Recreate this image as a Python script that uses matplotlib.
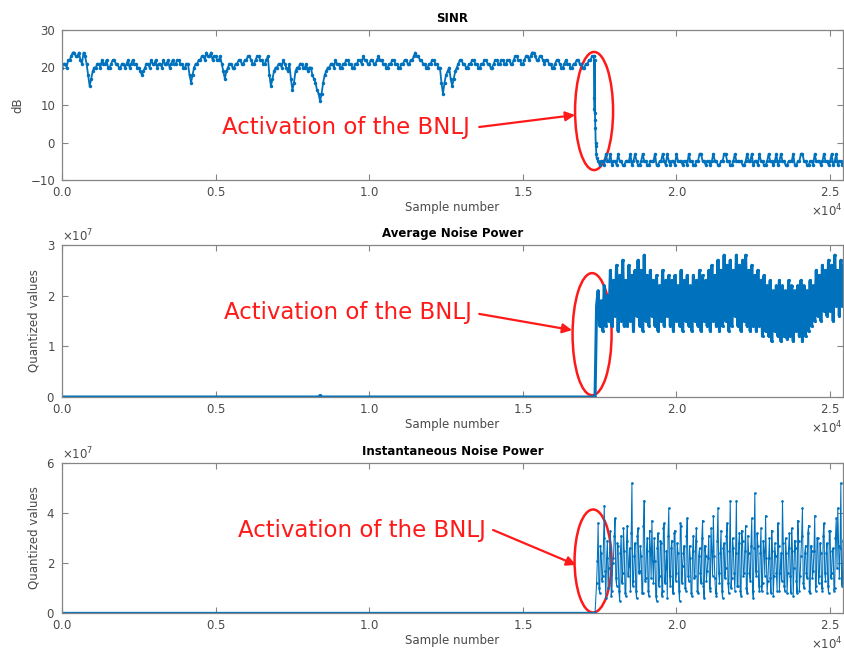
import numpy as np
import matplotlib
matplotlib.use("Agg")
import matplotlib.pyplot as plt
from matplotlib.patches import Ellipse
from matplotlib.ticker import ScalarFormatter

# ---------------- data ----------------
# SINR (dB) before the jammer switches on: samples 0, 100, 200, ...
sinr_pre = [
    20, 21, 22, 23, 24, 23, 22, 24, 21, 15,
    19, 20, 21, 22, 21, 20, 21, 22, 21, 20,
    21, 21, 20, 22, 21, 20, 18, 20, 21, 22,
    21, 20, 21, 22, 21, 20, 22, 21, 22, 21,
    20, 21, 16, 20, 21, 22, 23, 24, 23, 22,
    23, 22, 21, 17, 20, 21, 20, 21, 22, 21,
    22, 23, 21, 22, 23, 22, 21, 23, 15, 19,
    20, 21, 22, 20, 21, 14, 19, 20, 21, 20,
    19, 20, 17, 14, 11, 16, 19, 20, 21, 22,
    21, 20, 21, 22, 21, 20, 21, 22, 23, 22,
    21, 22, 21, 23, 22, 21, 20, 21, 22, 21,
    20, 21, 22, 21, 22, 24, 23, 22, 21, 20,
    21, 22, 21, 20, 13, 18, 20, 15, 19, 21,
    22, 21, 20, 21, 22, 21, 20, 21, 22, 21,
    20, 22, 21, 22, 21, 22, 21, 22, 23, 22,
    21, 23, 22, 24, 23, 22, 23, 21, 22, 21,
    20, 22, 21, 20, 22, 21, 20, 21, 22, 21,
    20, 21, 22, 23,
]
# samples 50, 150, 250, ...
sinr_pre_mid = [
    21, 20, 22, 24, 23, 24, 21, 23, 18, 17,
    20, 21, 20, 21, 22, 20, 22, 21, 20, 21,
    20, 22, 21, 21, 20, 19, 19, 21, 20, 21,
    22, 21, 20, 21, 22, 21, 21, 22, 21, 20,
    21, 18, 18, 21, 22, 23, 22, 23, 24, 23,
    22, 23, 19, 19, 21, 20, 21, 22, 21, 22,
    23, 22, 21, 23, 22, 21, 22, 18, 17, 20,
    21, 20, 21, 19, 17, 16, 20, 21, 20, 21,
    20, 18, 16, 13, 13, 18, 20, 21, 20, 21,
    20, 21, 22, 21, 20, 21, 22, 21, 22, 21,
    22, 21, 22, 22, 21, 20, 21, 22, 21, 20,
    21, 22, 21, 22, 23, 23, 22, 21, 20, 21,
    22, 21, 20, 16, 16, 19, 17, 17, 20, 22,
    21, 20, 21, 22, 21, 20, 21, 22, 21, 20,
    21, 22, 21, 22, 21, 22, 21, 23, 22, 21,
    22, 23, 23, 24, 22, 23, 22, 22, 21, 20,
    21, 22, 20, 21, 21, 20, 21, 22, 21, 20,
    21, 22, 23, 22,
]
# samples 17310 ... 17390 (every 10) while the SINR collapses
sinr_drop = [23, 12, 9, 8, 6, 4, 0, -1, -3]
# after activation: samples 17400, 17500, ...
sinr_post = [
    -4, -6, -5, -3, -5, -6, -5, -3, -5, -6,
    -5, -3, -5, -5, -6, -3, -5, -6, -5, -3,
    -6, -5, -5, -3, -6, -5, -3, -5, -6, -5,
    -3, -5, -6, -5, -3, -5, -5, -6, -3, -5,
    -6, -5, -3, -5, -6, -3, -5, -5, -6, -3,
    -5, -6, -5, -3, -5, -6, -3, -5, -5, -6,
    -3, -5, -6, -5, -3, -6, -5, -3, -5, -6,
    -5, -3, -5, -6, -3, -5, -5, -6, -3, -5,
    -6, -5,
]
# samples 17450, 17550, ...
sinr_post_mid = [
    -5, -5, -6, -5, -3, -5, -6, -5, -6, -5,
    -5, -6, -3, -6, -5, -5, -6, -5, -5, -6,
    -5, -3, -6, -5, -5, -6, -5, -5, -5, -6,
    -5, -6, -5, -3, -5, -6, -5, -5, -5, -6,
    -5, -3, -5, -6, -5, -5, -5, -6, -5, -5,
    -3, -5, -6, -5, -6, -5, -5, -6, -3, -5,
    -5, -6, -5, -5, -6, -5, -3, -5, -6, -5,
    -6, -5, -5, -5, -5, -6, -3, -5, -6, -5,
    -5, -6,
]

# Average noise power (x 1e7): quiet part, then every 50 samples from 17400
avg_quiet_idx = [0, 8350, 8400, 8450, 17350]
avg_quiet = [0.0, 0.0, 0.03, 0.0, 0.0]
avg_post = [
    1.8, 2.1, 1.4, 1.9, 1.3, 2.2, 1.4, 2.0,
    1.5, 2.5, 1.4, 2.3, 1.6, 2.6, 1.3, 2.4,
    1.5, 2.7, 1.4, 2.3, 1.4, 2.6, 1.5, 2.4,
    1.3, 2.5, 1.6, 2.7, 1.4, 2.5, 1.3, 2.8,
    1.5, 2.4, 1.4, 2.5, 1.6, 2.3, 1.4, 2.4,
    1.3, 2.2, 1.5, 2.5, 1.4, 2.3, 1.6, 2.4,
    1.4, 2.3, 1.3, 2.4, 1.5, 2.2, 1.4, 2.5,
    1.3, 2.3, 1.5, 2.4, 1.4, 2.2, 1.3, 2.4,
    1.5, 2.3, 1.4, 2.5, 1.3, 2.4, 1.5, 2.3,
    1.4, 2.5, 1.3, 2.6, 1.5, 2.4, 1.4, 2.7,
    1.3, 2.5, 1.4, 2.8, 1.5, 2.6, 1.3, 2.7,
    1.4, 2.5, 1.6, 2.8, 1.4, 2.6, 1.3, 2.7,
    1.5, 2.8, 1.4, 2.5, 1.3, 2.6, 1.4, 2.4,
    1.3, 2.5, 1.4, 2.3, 1.2, 2.4, 1.3, 2.2,
    1.2, 2.3, 1.1, 2.1, 1.3, 2.2, 1.2, 2.3,
    1.1, 2.2, 1.2, 2.1, 1.15, 2.3, 1.2, 2.2,
    1.1, 2.1, 1.3, 2.2, 1.2, 2.3, 1.1, 2.2,
    1.2, 2.1, 1.3, 2.3, 1.4, 2.2, 1.5, 2.5,
    1.6, 2.4, 1.5, 2.6, 1.7, 2.5, 1.6, 2.7,
    1.7, 2.6, 1.5, 2.8, 1.8, 2.5, 1.6, 2.7,
    1.8, 2.6, 1.7, 2.5,
]

# Instantaneous noise power (x 1e7): samples 17400, 17450, ...
inst_quiet_idx = [0, 17350]
inst_quiet = [0.0, 0.0]
inst_post = [
    1.2, 3.6, 0.8, 2.4, 1.5, 4.3, 0.6, 2.9,
    1.8, 3.3, 0.9, 2.2, 3.8, 1.1, 2.7, 0.5,
    3.1, 1.6, 2.5, 0.7, 3.5, 1.9, 0.9, 5.2,
    1.3, 2.8, 0.6, 3.4, 1.7, 2.3, 0.8, 4.5,
    1.4, 3.0, 0.7, 2.6, 3.7, 1.2, 2.1, 0.5,
    3.2, 1.5, 2.8, 0.9, 3.6, 1.8, 0.6, 4.2,
    1.1, 2.9, 0.8, 3.3, 1.6, 2.4, 0.5, 3.5,
    1.9, 2.7, 0.9, 3.8, 1.3, 2.2, 0.7, 3.1,
    1.5, 3.4, 0.8, 2.6, 1.2, 3.7, 0.6, 2.3,
    1.7, 3.1, 0.9, 2.5, 3.9, 1.4, 0.7, 4.2,
    1.2, 3.3, 0.6, 2.8, 1.8, 3.6, 0.8, 4.5,
    1.4, 2.6, 0.9, 4.5, 1.1, 3.2, 0.7, 2.9,
    1.6, 3.5, 0.8, 2.4, 1.3, 3.8, 0.6, 4.8,
    1.5, 2.7, 0.9, 3.4, 1.2, 2.5, 3.9, 0.8,
    2.2, 1.4, 3.3, 0.7, 2.8, 1.6, 3.6, 0.9,
    2.4, 4.5, 1.1, 3.0, 0.8, 2.6, 1.5, 3.4,
    0.7, 2.9, 1.3, 3.7, 0.9, 2.3, 4.2, 1.0,
    2.7, 1.4, 3.5, 0.8, 2.5, 1.7, 3.9, 1.1,
    3.0, 1.5, 2.4, 0.9, 3.6, 1.3, 2.8, 0.8,
    3.3, 1.6, 2.6, 1.0, 3.8, 4.2, 1.4, 5.2,
    1.2, 3.1, 0.9, 2.7,
]
# samples 17425, 17475, ...
inst_post_mid = [
    2.1, 1.0, 2.7, 1.3, 3.0, 1.7, 2.2, 1.0,
    2.6, 0.7, 2.0, 3.1, 1.4, 2.8, 0.9, 2.4,
    1.2, 3.4, 0.8, 2.9, 1.5, 2.6, 3.2, 1.1,
    2.3, 0.9, 3.1, 1.6, 2.7, 0.8, 3.5, 1.3,
    2.5, 0.9, 3.3, 1.4, 2.1, 3.0, 0.7, 2.6,
    1.1, 2.9, 0.7, 3.4, 1.2, 2.5, 3.1, 1.5,
    2.6, 0.8, 3.2, 1.3, 2.8, 0.9, 3.6, 1.2,
    2.4, 1.0, 3.1, 1.5, 2.7, 0.8, 2.5, 1.4,
    2.9, 0.9, 2.3, 1.6, 3.0, 1.1, 2.7, 1.3,
    2.2, 1.0, 3.4, 1.5, 2.3, 0.8, 2.9, 1.6,
    2.4, 0.9, 2.6, 1.4, 3.1, 1.2, 2.5, 1.0,
    3.0, 1.6, 2.4, 1.1, 2.8, 0.9, 3.3, 1.5,
    2.5, 1.0, 3.1, 1.6, 2.7, 0.9, 2.6, 1.7,
    3.2, 1.1, 2.4, 0.9, 2.9, 1.5, 2.2, 1.3,
    3.0, 0.8, 2.5, 1.5, 2.3, 0.9, 2.7, 1.6,
    1.3, 2.8, 0.9, 2.4, 1.6, 3.2, 0.8, 2.5,
    1.8, 2.6, 0.8, 2.9, 1.5, 3.1, 1.2, 2.4,
    1.6, 3.2, 0.9, 2.7, 1.4, 2.5, 0.9, 3.0,
    1.2, 2.8, 1.0, 3.1, 1.6, 2.4, 1.1, 3.3,
    1.4, 2.5, 0.9, 3.0, 1.8, 2.7, 2.6, 1.1,
    2.9, 1.5, 3.2, 1.6,
]


def merge(pairs):
    """Join (sample_index, value) chunks and order them by sample index."""
    xs = np.concatenate([np.asarray(p[0], dtype=float) for p in pairs])
    ys = np.concatenate([np.asarray(p[1], dtype=float) for p in pairs])
    order = np.argsort(xs, kind="stable")
    return xs[order], ys[order]


x_sinr, y_sinr = merge([
    (np.arange(len(sinr_pre)) * 100, sinr_pre),
    (50 + np.arange(len(sinr_pre_mid)) * 100, sinr_pre_mid),
    (17310 + np.arange(len(sinr_drop)) * 10, sinr_drop),
    (17400 + np.arange(len(sinr_post)) * 100, sinr_post),
    (17450 + np.arange(len(sinr_post_mid)) * 100, sinr_post_mid),
])
# keep the SINR trace out of the gap before the drop
keep = ~((x_sinr > 17300) & (x_sinr < 17310))
x_sinr, y_sinr = x_sinr[keep], y_sinr[keep]

x_avg, y_avg = merge([
    (avg_quiet_idx, avg_quiet),
    (17400 + np.arange(len(avg_post)) * 50, avg_post),
])
y_avg = y_avg * 1e7

x_inst, y_inst = merge([
    (17400 + np.arange(len(inst_post)) * 50, inst_post),
    (17425 + np.arange(len(inst_post_mid)) * 50, inst_post_mid),
])
x_inst = np.concatenate([[17350], x_inst])
y_inst = np.concatenate([[0.0], y_inst]) * 1e7

# ---------------- styling ----------------
BLUE = "#0072BD"
AX_GREY = "#858585"
TXT_GREY = "#4a4a4a"
plt.rcParams.update({
    "font.family": "DejaVu Sans",
    "font.size": 8.5,
    "axes.edgecolor": AX_GREY,
    "axes.linewidth": 0.9,
    "xtick.color": AX_GREY,
    "ytick.color": AX_GREY,
    "xtick.labelcolor": TXT_GREY,
    "ytick.labelcolor": TXT_GREY,
    "xtick.direction": "in",
    "ytick.direction": "in",
    "xtick.top": True,
    "ytick.right": True,
    "xtick.major.size": 4,
    "ytick.major.size": 4,
    "ytick.major.pad": 5,
    "xtick.major.pad": 4,
})

fig = plt.figure(figsize=(8.45, 6.55), dpi=100)
W, H = 845.0, 655.0


def add_axes(top_px, bottom_px, left_px=62, right_px=843):
    return fig.add_axes([left_px / W, 1 - bottom_px / H,
                         (right_px - left_px) / W, (bottom_px - top_px) / H])


ax1 = add_axes(30, 180)
ax2 = add_axes(245, 397)
ax3 = add_axes(463, 613)

XMAX = 25420
xticks = [0, 5000, 10000, 15000, 20000, 25000]

ax1.plot(x_sinr, y_sinr, color=BLUE, lw=1.3, marker=".", ms=5,
         markeredgewidth=0)
ax1.set_ylim(-10, 30)
ax1.set_yticks([-10, 0, 10, 20, 30])
ax1.set_title("SINR", fontweight="bold", fontsize=8.5, pad=6)
ax1.set_ylabel("dB", color=TXT_GREY)

ax2.plot(x_avg, y_avg, color=BLUE, lw=2.2, marker=".", ms=2.5)
ax2.set_ylim(0, 3e7)
ax2.set_yticks([0, 1e7, 2e7, 3e7])
ax2.set_title("Average Noise Power", fontweight="bold", fontsize=8.5, pad=6)
ax2.set_ylabel("Quantized values", color=TXT_GREY)

ax3.plot(inst_quiet_idx, np.array(inst_quiet) * 1e7, color=BLUE, lw=2.4)
ax3.plot(x_inst, y_inst, color=BLUE, lw=0.75, marker=".", ms=3.8,
         markeredgewidth=0)
ax3.set_ylim(0, 6e7)
ax3.set_yticks([0, 2e7, 4e7, 6e7])
ax3.set_title("Instantaneous Noise Power", fontweight="bold", fontsize=8.5, pad=6)
ax3.set_ylabel("Quantized values", color=TXT_GREY)

for ax in (ax1, ax2, ax3):
    ax.set_xlim(0, XMAX)
    ax.set_xticks(xticks)
    ax.set_xlabel("Sample number", color=TXT_GREY, labelpad=2)
    fx = ScalarFormatter(useMathText=True)
    fx.set_powerlimits((0, 0))
    ax.xaxis.set_major_formatter(fx)
    ax.xaxis.get_offset_text().set_color(TXT_GREY)
    if ax is not ax1:
        fy = ScalarFormatter(useMathText=True)
        fy.set_powerlimits((0, 0))
        ax.yaxis.set_major_formatter(fy)
        ax.yaxis.get_offset_text().set_color(TXT_GREY)

# ---------------- annotations ----------------
RED = "#FF1A1A"
notes = [
    # axis, text anchor, arrow start, arrow end, ellipse centre, ellipse size
    (ax1, (5208, 3.87), (13580, 4.13), (16699, 7.33), (17318, 8.4), (1237, 31.5)),
    (ax2, (5273, 1.66e7), (13580, 1.64e7), (16602, 1.32e7), (17253, 1.24e7), (1270, 2.41e7)),
    (ax3, (5729, 3.32e7), (14030, 3.32e7), (16732, 1.92e7), (17285, 2.08e7), (1204, 4.12e7)),
]
for ax, txt_xy, a0, a1, c, (w, h) in notes:
    ax.text(txt_xy[0], txt_xy[1], "Activation of the BNLJ", color=RED,
            fontsize=16.5, va="center", ha="left")
    ax.annotate("", xy=a1, xytext=a0,
                arrowprops=dict(arrowstyle="-|>", color=RED, lw=1.6,
                                mutation_scale=14, shrinkA=0, shrinkB=0))
    ax.add_patch(Ellipse(c, w, h, fill=False, edgecolor=RED, lw=1.8,
                         clip_on=False))

fig.savefig("out.png", dpi=100)
